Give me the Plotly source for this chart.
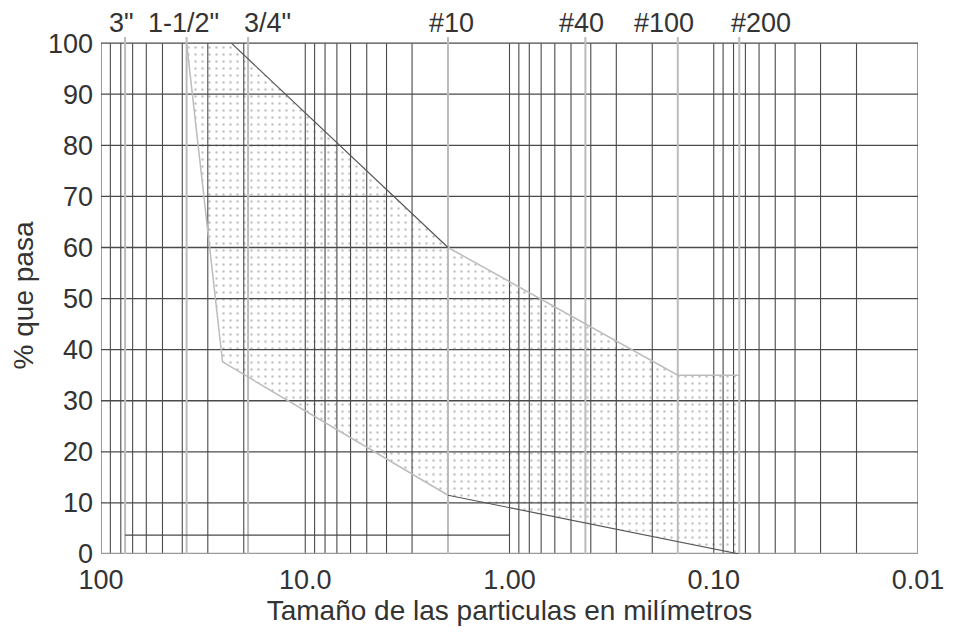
import numpy as np
import plotly.graph_objects as go

# ---- data ----
decades = [10, 1, 0.1, 0.01]
multipliers = [10, 9, 8, 7, 6, 5, 4, 3, 2]
pct_grid = [0, 10, 20, 30, 40, 50, 60, 70, 80, 90, 100]

sieve_mm = [76.2, 38.1, 19.05, 2.0, 0.425, 0.15, 0.075]
sieve_labels = ['3"', '1-1/2"', '3/4"', '#10', '#40', '#100', '#200']

x_tick_vals = [100, 10, 1, 0.1, 0.01]
x_tick_text = ['100', '10.0', '1.00', '0.10', '0.01']

upper_mm = [23.0, 2.0, 0.15, 0.075]
upper_pct = [100, 60, 35, 35]
lower_mm = [38.1, 25.4, 2.0, 0.075]
lower_pct = [100, 37.6, 11.5, 0]

base_mm = [76.2, 1.0]
base_pct = [3.7, 3.7]

# ---- styles ----
DARK = '#4a4a4a'
LIGHT = '#bcbcbc'
TXT = '#333333'
FONT = 'Liberation Sans, Arial, sans-serif'
YTOP = 101.2
label_shift = {'3"': -4, '1-1/2"': -3, '3/4"': 19, '#10': 3, '#40': -4, '#100': -14, '#200': 22}

grid_mm = [100.0] + [d * m for d in decades for m in multipliers[1:]] + [d for d in decades]
grid_mm = sorted(set(round(g, 6) for g in grid_mm), reverse=True)

fig = go.Figure()

# band fill (stippled)
poly_x = upper_mm + lower_mm[::-1]
poly_y = upper_pct + lower_pct[::-1]
fig.add_trace(go.Scatter(
    x=poly_x, y=poly_y, mode='lines', fill='toself',
    line=dict(width=0, color='rgba(0,0,0,0)'),
    fillcolor='rgba(255,255,255,0)',
    fillpattern=dict(shape='.', fgcolor='#858585', bgcolor='rgba(255,255,255,0)',
                     size=7, solidity=0.1),
    hoverinfo='skip', showlegend=False))

# vertical grid
vx, vy = [], []
for g in grid_mm:
    vx += [g, g, None]
    vy += [0, 100, None]
fig.add_trace(go.Scatter(x=vx, y=vy, mode='lines', line=dict(color=DARK, width=1.1),
                         hoverinfo='skip', showlegend=False))

# horizontal grid
hx, hy = [], []
for p in pct_grid[1:]:
    hx += [100, 0.01, None]
    hy += [p, p, None]
fig.add_trace(go.Scatter(x=hx, y=hy, mode='lines', line=dict(color=DARK, width=1.3),
                         hoverinfo='skip', showlegend=False))

# bottom axis line
fig.add_trace(go.Scatter(x=[100, 0.01], y=[0, 0], mode='lines', line=dict(color='#9a9a9a', width=2.5),
                         hoverinfo='skip', showlegend=False))

# sieve lines
sx, sy = [], []
for s in sieve_mm:
    sx += [s, s, None]
    sy += [0, YTOP, None]
fig.add_trace(go.Scatter(x=sx, y=sy, mode='lines', line=dict(color=LIGHT, width=2),
                         hoverinfo='skip', showlegend=False))

# base line
fig.add_trace(go.Scatter(x=base_mm, y=base_pct, mode='lines', line=dict(color=DARK, width=1.2),
                         hoverinfo='skip', showlegend=False))

# band boundaries
fig.add_trace(go.Scatter(x=upper_mm[:2], y=upper_pct[:2], mode='lines', line=dict(color='#555555', width=1.2),
                         hoverinfo='skip', showlegend=False))
fig.add_trace(go.Scatter(x=upper_mm[1:], y=upper_pct[1:], mode='lines', line=dict(color=LIGHT, width=1.5),
                         hoverinfo='skip', showlegend=False))
fig.add_trace(go.Scatter(x=lower_mm[:3], y=lower_pct[:3], mode='lines', line=dict(color=LIGHT, width=1.5),
                         hoverinfo='skip', showlegend=False))
fig.add_trace(go.Scatter(x=lower_mm[2:], y=lower_pct[2:], mode='lines', line=dict(color='#555555', width=1.2),
                         hoverinfo='skip', showlegend=False))

# top sieve labels
for s, lab in zip(sieve_mm, sieve_labels):
    fig.add_annotation(x=np.log10(s), xref='x', y=1, yref='paper', yanchor='bottom',
                       text=lab, showarrow=False, xshift=label_shift[lab], yshift=-3,
                       font=dict(family=FONT, size=27, color=TXT))

# page body has an 8px margin: figure is sized/placed to compensate
fig.update_layout(
    width=958, height=627,
    margin=dict(l=93, r=48, t=29, b=81),
    paper_bgcolor='white', plot_bgcolor='white',
    font=dict(family=FONT, size=27, color=TXT),
    showlegend=False,
    xaxis=dict(type='log', range=[2, -2], tickvals=x_tick_vals, ticktext=x_tick_text,
               showgrid=False, zeroline=False, showline=False, ticks='',
               ticklabelstandoff=7, tickfont=dict(size=27),
               title=dict(text='Tamaño de las particulas en milímetros', standoff=3,
                          font=dict(family=FONT, size=28, color=TXT))),
    yaxis=dict(range=[0, YTOP], tickvals=pct_grid, showgrid=False, zeroline=False,
               showline=False, ticks='', ticklabelstandoff=7, tickfont=dict(size=27),
               title=dict(text='% que pasa', standoff=8,
                          font=dict(family=FONT, size=28, color=TXT))),
)

fig.write_html('out.html')
